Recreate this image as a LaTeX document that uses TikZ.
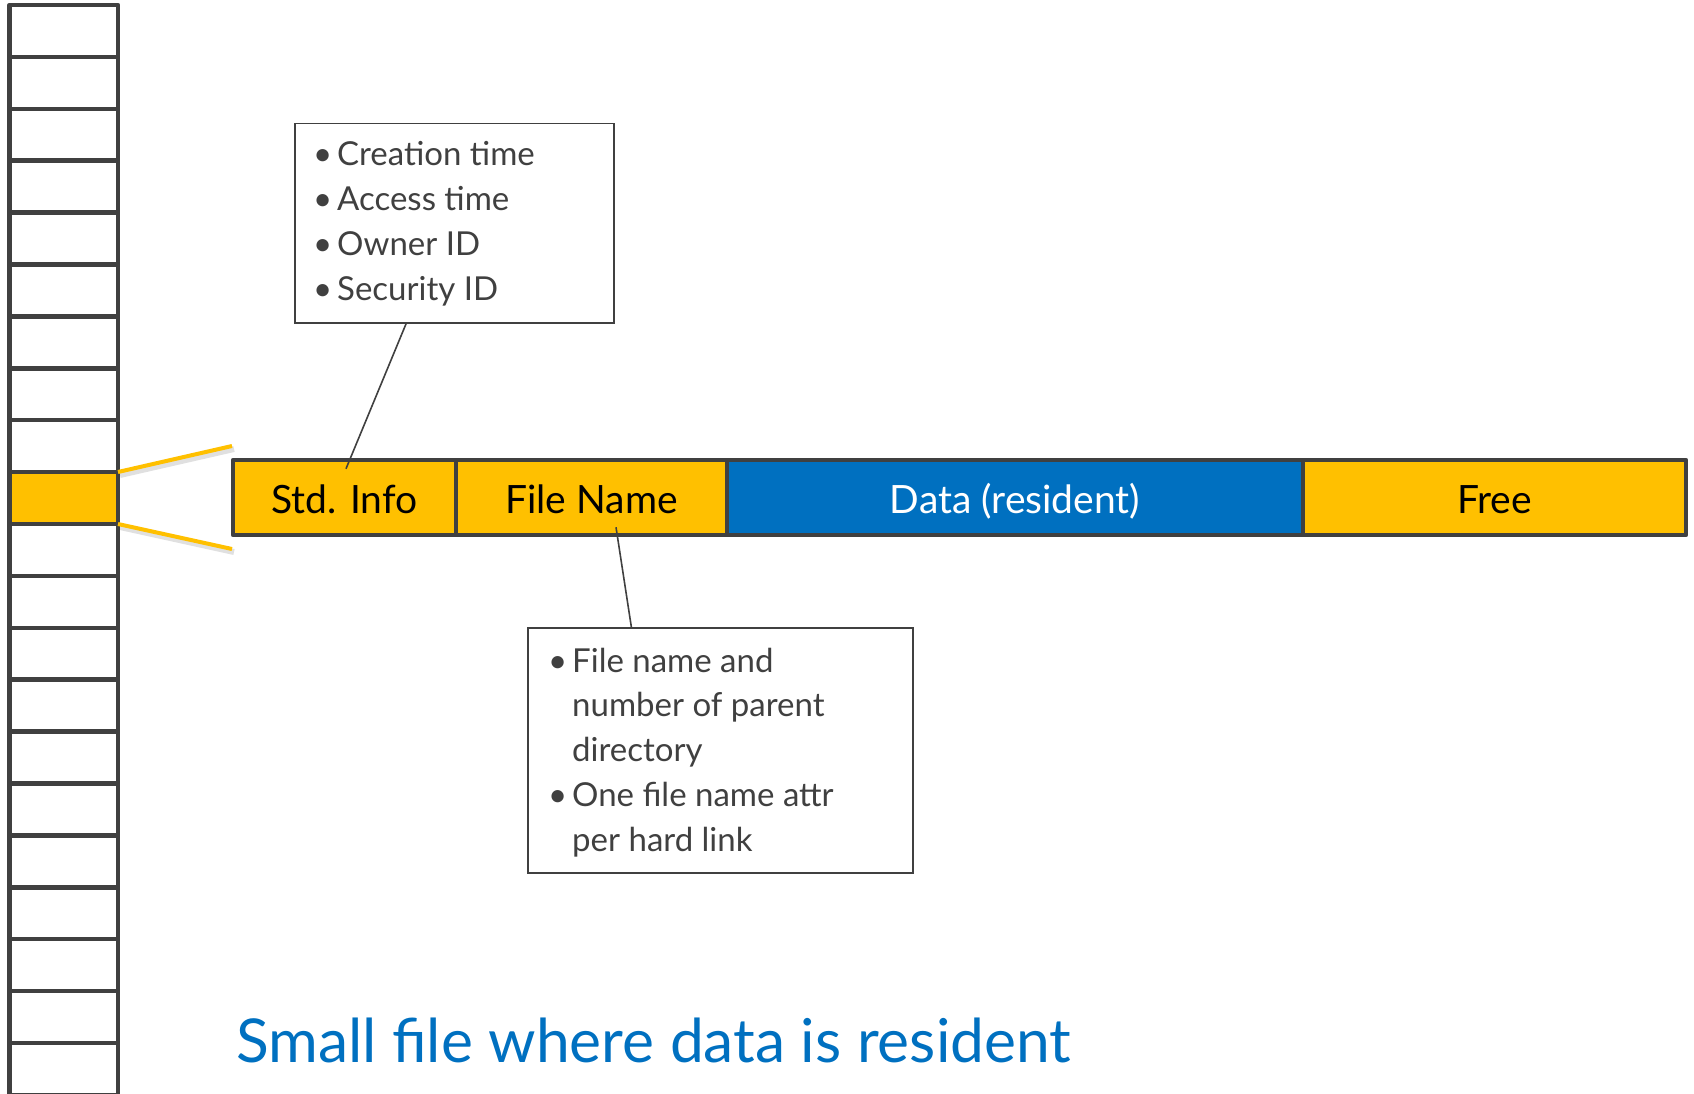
\documentclass[tikz,border=0pt]{standalone}
\usepackage{fontspec}
\setmainfont{Lato}
\usetikzlibrary{calc}
\definecolor{ink}{HTML}{404040}
\definecolor{amber}{HTML}{FFC000}
\definecolor{azure}{HTML}{0070C0}
\tikzset{
  grid line/.style={draw=ink, line width=4.5pt, line join=round},
  cell/.style={grid line, rectangle, minimum height=75pt, inner sep=0pt,
    text height=38pt, text depth=7pt,
    font=\fontsize{39}{44}\selectfont},
  yellowcell/.style={cell, fill=amber, text=black},
  bluecell/.style={cell, fill=azure, text=white},
  callout/.style={draw=ink, line width=1.5pt, rectangle, inner sep=0pt},
  leader/.style={draw=ink, line width=1.6pt},
  fan/.style={draw=amber, line width=4pt},
  fanshadow/.style={draw=black, opacity=0.12, line width=6pt},
  notes/.style={anchor=base west, inner sep=0pt, text=ink},
}
\newcommand{\bul}{\makebox[24pt][l]{\textbullet}}
\newcommand{\hang}{\hspace*{24pt}}
\begin{document}
\begin{tikzpicture}[x=1pt, y=-1pt]
  \useasboundingbox (0,0) rectangle (1694,1094);
  \begin{scope}
    \clip (0,0) rectangle (1694,1094);
    % record table on the left
    \fill[amber] (9.5,472) rectangle (118,524);
    \foreach \i in {0,...,20} {
      \draw[grid line] (9.5,{5+\i*51.9}) rectangle (118,{5+(\i+1)*51.9});
    }
  \end{scope}
  \coordinate (rowtop) at (118,472);
  \coordinate (rowbot) at (118,524);

  % the expanded record
  \node[yellowcell, minimum width=223pt] (std) at (344.5,497.5) {Std. Info};
  \node[yellowcell, minimum width=271pt] (fname) at (591.5,497.5) {File Name};
  \node[bluecell, minimum width=576pt] (data) at (1015,497.5) {Data (resident)};
  \node[yellowcell, minimum width=383pt] (free) at (1494.5,497.5) {Free};

  \coordinate (fantop) at (232,446);
  \coordinate (fanbot) at (232,549);
  \draw[fanshadow] ($(rowtop)+(2,3)$) -- ($(fantop)+(2,3)$);
  \draw[fanshadow] ($(rowbot)+(2,3)$) -- ($(fanbot)+(2,3)$);
  \draw[fan] (rowtop) -- (fantop);
  \draw[fan] (rowbot) -- (fanbot);

  % callout for the standard information attribute
  \node[callout, anchor=north west, minimum width=319pt, minimum height=199pt] (stdbox) at (294,123) {};
  \node[notes] (stdtext) at (313,166) {\parbox[t]{295pt}{\fontsize{33}{44.9}\selectfont\raggedright
    \bul Creation time\\
    \bul Access time\\
    \bul Owner ID\\
    \bul Security ID}};
  \coordinate (stdpin) at ($(std.north)+(1.5,11)$);
  \draw[leader] ($(stdbox.south west)!0.35!(stdbox.south east)$) -- (stdpin);

  % callout for the file name attribute
  \node[callout, anchor=north west, minimum width=385pt, minimum height=245pt] (fnbox) at (527,627) {};
  \node[notes] (fntext) at (548,672) {\parbox[t]{360pt}{\fontsize{33}{44.8}\selectfont\raggedright
    \bul File name and\\
    \hang number of parent\\
    \hang directory\\
    \bul One file name attr\\
    \hang per hard link}};
  \coordinate (fnpin) at ($(fname.south)+(24.5,-10)$);
  \draw[leader] (fnpin) -- ($(fnbox.north west)!0.27!(fnbox.north east)$);

  % caption
  \node[anchor=base west, inner sep=0pt, text=azure, font=\fontsize{60.5}{70}\selectfont] (caption) at (236,1062) {Small file where data is resident};
\end{tikzpicture}
\end{document}
